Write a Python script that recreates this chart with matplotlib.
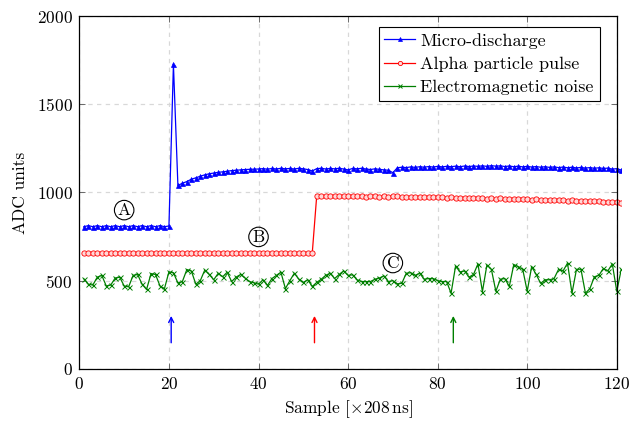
import numpy as np
import matplotlib
matplotlib.use("Agg")
import matplotlib.pyplot as plt
from matplotlib.transforms import Bbox, TransformedBbox

plt.rcParams["font.family"] = ["cmr10", "DejaVu Serif"]
plt.rcParams["mathtext.fontset"] = "cm"
plt.rcParams["axes.formatter.use_mathtext"] = True

# ADC traces, one value per sample (sample 1 .. 121)
micro_discharge = [
    806, 812, 806, 812, 806, 812, 806, 812, 806, 812,
    806, 812, 806, 812, 806, 812, 806, 812, 806, 810,
    1726, 1040, 1052, 1062, 1075, 1083, 1092, 1100, 1106, 1110,
    1114, 1117, 1120, 1124, 1126, 1128, 1130, 1131, 1132, 1133,
    1135, 1132, 1136, 1133, 1137, 1134, 1136, 1133, 1137, 1134,
    1130, 1122, 1135, 1137, 1133, 1136, 1134, 1137, 1133, 1128,
    1136, 1134, 1137, 1133, 1130, 1134, 1131, 1128, 1126, 1112,
    1140, 1143, 1141, 1145, 1142, 1146, 1143, 1147, 1144, 1148,
    1145, 1148, 1146, 1149, 1146, 1150, 1147, 1150, 1148, 1151,
    1148, 1152, 1149, 1151, 1147, 1150, 1146, 1149, 1145, 1148,
    1144, 1147, 1143, 1146, 1142, 1145, 1141, 1144, 1140, 1143,
    1139, 1142, 1138, 1141, 1137, 1140, 1136, 1138, 1132, 1135,
    1127,
]

alpha_pulse = [
    655, 658, 655, 658, 655, 658, 655, 658, 655, 658,
    655, 658, 655, 658, 655, 658, 655, 658, 655, 658,
    655, 658, 655, 658, 655, 658, 655, 658, 655, 658,
    655, 658, 655, 658, 655, 658, 655, 658, 655, 658,
    655, 658, 655, 658, 655, 658, 655, 658, 655, 658,
    655, 656,
    982, 980, 981, 979, 980, 981, 979, 980,
    980, 978, 979, 977, 979, 978, 976, 978, 977, 979,
    978, 976, 977, 975, 976, 974, 975, 973, 974, 972,
    973, 971, 972, 970, 968, 970, 967, 969, 966, 968,
    965, 967, 964, 966, 963, 964, 962, 963, 961, 962,
    960, 961, 958, 960, 957, 958, 955, 957, 954, 956,
    953, 954, 951, 952, 949, 950, 947, 948, 946, 945,
    942,
]

em_noise = [
    510, 480, 475, 520, 530, 470, 475, 515, 520, 470,
    465, 530, 535, 480, 450, 540, 535, 470, 455, 550,
    545, 487, 495, 563, 555, 480, 500, 560, 535, 505,
    542, 522, 548, 495, 520, 535, 515, 495, 488, 480,
    505, 473, 512, 530, 548, 455, 500, 542, 508, 490,
    505, 467, 490, 508, 530, 542, 512, 535, 555, 530,
    533, 505, 495, 495, 495, 508, 515, 527, 495, 500,
    482, 485, 542, 545, 530, 542, 508, 512, 512, 500,
    495, 495, 429, 582, 550, 555, 520, 535, 595, 438,
    589, 564, 440, 508, 512, 467, 591, 580, 564, 440,
    580, 535, 485, 505, 505, 512, 564, 555, 599, 429,
    564, 565, 429, 455, 522, 530, 569, 555, 595, 440,
    564,
]

series_labels = ["Micro-discharge", "Alpha particle pulse", "Electromagnetic noise"]
series_colors = ["#0000ff", "#ff0000", "#007f00"]

# event markers below the traces
event_samples = [20.5, 52.5, 83.5]

# region tags: letter, sample, ADC value
tag_letters = ["A", "B", "C"]
tag_samples = [10, 40, 70]
tag_values = [900, 748, 600]

samples = np.arange(1, len(micro_discharge) + 1)

fig = plt.figure(figsize=(6.3, 4.23), dpi=100)
ax = fig.add_axes([0.126, 0.128, 0.853, 0.834])

ax.set_xlim(0, 120)
ax.set_ylim(0, 2000)
ax.set_xticks(np.arange(0, 121, 20))
ax.set_yticks(np.arange(0, 2001, 500))

ax.grid(True, color="#d8d8d8", linestyle=(0, (3.5, 3.5)), linewidth=0.9)
ax.set_axisbelow(True)

clip = TransformedBbox(Bbox([[0, 0], [120.9, 2000]]), ax.transData)

l1, = ax.plot(samples, micro_discharge, color=series_colors[0], lw=0.9,
              marker="^", ms=3.6, mfc=series_colors[0], mec=series_colors[0],
              mew=0.5, label=series_labels[0])
l2, = ax.plot(samples, alpha_pulse, color=series_colors[1], lw=0.9,
              marker="o", ms=3.8, mfc="#ffd8d8", mec=series_colors[1],
              mew=0.6, label=series_labels[1])
l3, = ax.plot(samples, em_noise, color=series_colors[2], lw=0.9,
              marker="x", ms=3.6, mec=series_colors[2], mew=0.7,
              label=series_labels[2])
for ln in (l1, l2, l3):
    ln.set_clip_box(clip)

for s, c in zip(event_samples, series_colors):
    ax.annotate("", xy=(s, 300), xytext=(s, 148),
                arrowprops=dict(arrowstyle="->", color=c, lw=1.0,
                                shrinkA=0, shrinkB=0, mutation_scale=9))

for letter, s, v in zip(tag_letters, tag_samples, tag_values):
    ax.text(s, v, letter, ha="center", va="center", fontsize=12.5,
            bbox=dict(boxstyle="circle,pad=0.12", fc="none", ec="black", lw=0.8))

ax.tick_params(direction="in", length=4, width=0.6, color="#555555",
               top=True, right=True, labelsize=12.5, pad=5)
for sp in ax.spines.values():
    sp.set_linewidth(0.9)

ax.set_xlabel(r"Sample $[\times 208\,\mathrm{ns}]$", fontsize=12.5, labelpad=5)
ax.set_ylabel("ADC units", fontsize=12.5, labelpad=6)

leg = ax.legend(loc="upper right", bbox_to_anchor=(0.968, 0.969),
                fontsize=13, frameon=True, fancybox=False,
                edgecolor="black", framealpha=1, borderpad=0.32,
                labelspacing=0.42, handlelength=1.7, handletextpad=0.3,
                borderaxespad=0.0, markerscale=0.8)
leg.get_frame().set_linewidth(0.8)

fig.savefig("out.png", dpi=100)
